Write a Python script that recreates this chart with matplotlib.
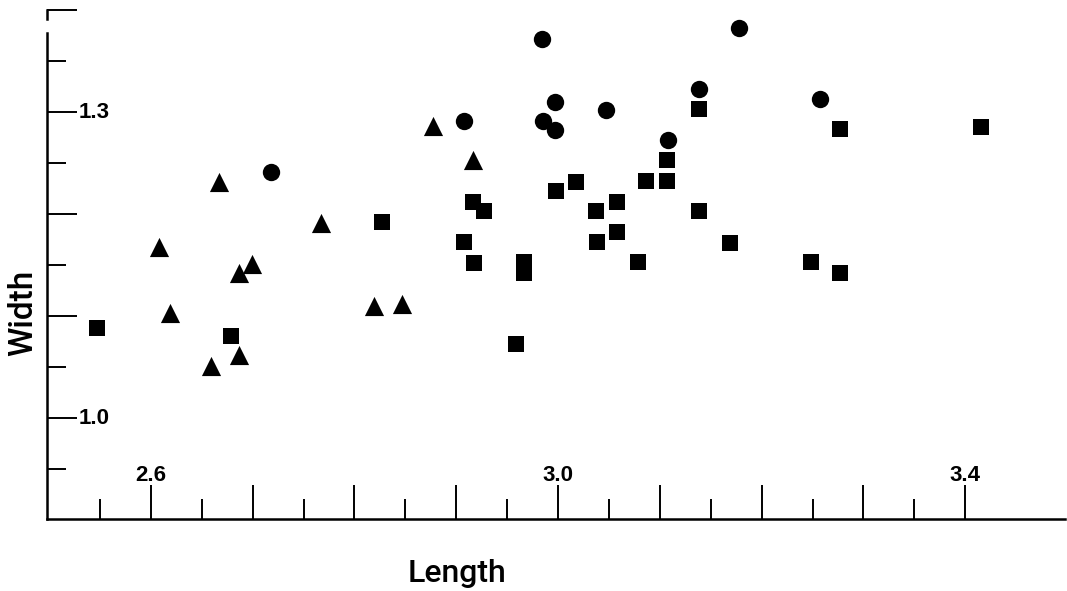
import matplotlib
matplotlib.use("Agg")
import matplotlib.pyplot as plt
from matplotlib.lines import Line2D

# Data
tri_x = [2.608, 2.619, 2.667, 2.659, 2.687, 2.699, 2.687, 2.767, 2.819, 2.847, 2.877, 2.916]
tri_y = [1.168, 1.103, 1.231, 1.051, 1.142, 1.151, 1.062, 1.191, 1.110, 1.112, 1.286, 1.253]

circ_x = [2.718, 2.908, 2.984, 2.985, 2.997, 2.997, 3.047, 3.108, 3.138, 3.178, 3.257]
circ_y = [1.241, 1.291, 1.372, 1.291, 1.310, 1.282, 1.302, 1.273, 1.323, 1.382, 1.313]

sq_x = [2.547, 2.679, 2.827, 2.908, 2.916, 2.927, 2.917, 2.959, 2.967, 2.967,
        2.998, 3.018, 3.037, 3.038, 3.058, 3.058, 3.079, 3.086, 3.107, 3.107,
        3.138, 3.138, 3.169, 3.248, 3.277, 3.277, 3.415]
sq_y = [1.088, 1.080, 1.192, 1.173, 1.212, 1.203, 1.152, 1.073, 1.153, 1.142,
        1.223, 1.231, 1.203, 1.173, 1.212, 1.182, 1.153, 1.232, 1.253, 1.232,
        1.303, 1.203, 1.172, 1.153, 1.283, 1.142, 1.285]

x_major = [2.6, 2.7, 2.8, 2.9, 3.0, 3.1, 3.2, 3.3, 3.4]
x_minor = [2.55, 2.65, 2.75, 2.85, 2.95, 3.05, 3.15, 3.25, 3.35]
y_major = [1.0, 1.1, 1.2, 1.3, 1.4]
y_minor = [0.95, 1.05, 1.15, 1.25, 1.35]
x_labels = [2.6, 3.0, 3.4]
y_labels = [1.0, 1.3]

W, H = 1067, 591
fig = plt.figure(figsize=(W / 100, H / 100), dpi=100)
ax = fig.add_axes([47 / W, 72 / H, (1065 - 47) / W, (519 - 10) / H])
ax.set_xlim(2.498, 3.498)
ax.set_ylim(0.901, 1.4)

ax.scatter(tri_x, tri_y, marker='^', s=13.8 ** 2, color='black', linewidths=0, clip_on=False)
ax.scatter(circ_x, circ_y, marker='o', s=12.5 ** 2, color='black', linewidths=0, clip_on=False)
ax.scatter(sq_x, sq_y, marker='s', s=12.2 ** 2, color='black', linewidths=0, clip_on=False)

for s in ['top', 'right']:
    ax.spines[s].set_visible(False)
for s in ['left', 'bottom']:
    ax.spines[s].set_linewidth(1.8)
ax.spines['left'].set_bounds(0.901, 1.3775)

ax.set_xticks(x_major)
ax.set_xticks(x_minor, minor=True)
ax.set_yticks(y_major)
ax.set_yticks(y_minor, minor=True)
ax.tick_params(axis='x', which='major', direction='in', length=24.5, width=1.4, labelbottom=False)
ax.tick_params(axis='x', which='minor', direction='in', length=14.5, width=1.4)
ax.tick_params(axis='y', which='major', direction='in', length=21.5, width=1.4, labelleft=False)
ax.tick_params(axis='y', which='minor', direction='in', length=13.5, width=1.4)

# small stub of the top bracket
ax.add_line(Line2D([0, 0], [1.4, 1.3912], transform=ax.get_yaxis_transform(),
                   color='black', lw=1.8, clip_on=False))

tick_font = dict(family=['Liberation Sans', 'DejaVu Sans'], weight='bold', fontsize=16)
for v in x_labels:
    ax.annotate(f"{v:.1f}", xy=(v, 0), xycoords=ax.get_xaxis_transform(),
                xytext=(0, 24), textcoords='offset points', ha='center', va='bottom', **tick_font)
for v in y_labels:
    ax.annotate(f"{v:.1f}", xy=(0, v), xycoords=ax.get_yaxis_transform(),
                xytext=(22.5, 0), textcoords='offset points', ha='left', va='center', **tick_font)

lab_font = dict(family=['Roboto', 'Liberation Sans', 'DejaVu Sans'], weight='medium')
fig.text(457 / W, 1 - 582 / H, "Length", ha='center', va='baseline', fontsize=23, **lab_font)
fig.text(23 / W, 1 - 313 / H, "Width", ha='center', va='center', rotation=90, fontsize=24, **lab_font)

fig.savefig("out.png", dpi=100)
